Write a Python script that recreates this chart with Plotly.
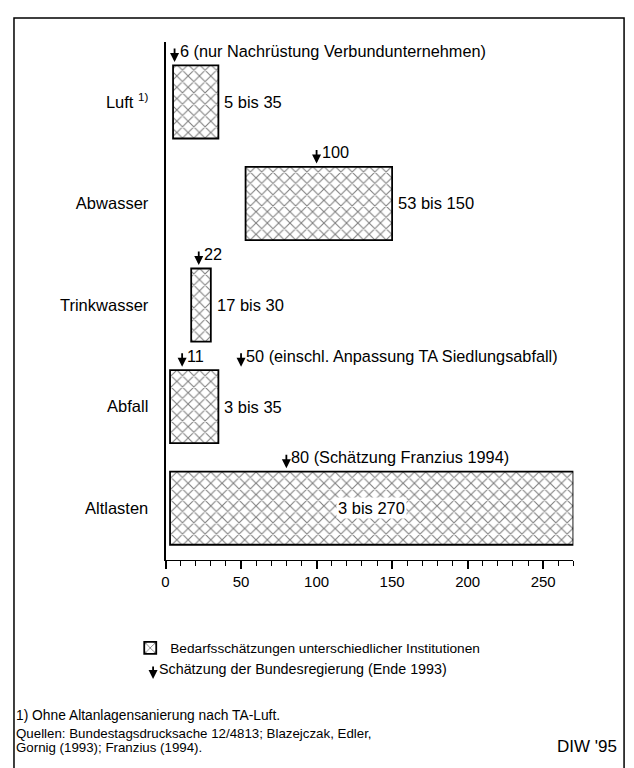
import plotly.graph_objects as go

# ---- data ----
categories = ["Luft", "Abwasser", "Trinkwasser", "Abfall", "Altlasten"]
category_labels = ["Luft <sup>1)</sup>", "Abwasser", "Trinkwasser", "Abfall", "Altlasten"]
low = [5, 53, 17, 3, 3]
high = [35, 150, 30, 35, 270]

gov_category = ["Luft", "Abwasser", "Trinkwasser", "Abfall", "Abfall", "Altlasten"]
gov_value = [6, 100, 22, 11, 50, 80]
gov_note = ["(nur Nachrüstung Verbundunternehmen)", "", "", "", "(einschl. Anpassung TA Siedlungsabfall)",
            "(Schätzung Franzius 1994)"]

x_tick_step = 50
x_minor_step = 10
x_max = 270
x_minor_vals = list(range(0, x_max + 1, x_minor_step))
x_minor_text = [str(v) if v % x_tick_step == 0 else "" for v in x_minor_vals]

# page has an 8px body margin -> figure is placed at (8, 8)
OFF = 8
W, H = 634 - OFF, 768 - OFF
FONT = "Liberation Sans, Arial, Helvetica, sans-serif"


def fx(x):
    return (x - OFF) / W


def fy(y):
    return 1 - (y - OFF) / H


ypos = list(range(len(categories)))
widths = [h - l for l, h in zip(low, high)]

bar_marker = dict(color="white", line=dict(color="black", width=1.8),
                  pattern=dict(shape="x", fgcolor="black", bgcolor="white", size=8, solidity=0.25))

fig = go.Figure()
fig.add_trace(go.Bar(
    y=ypos, x=widths, base=low, orientation="h", width=0.72,
    name="Bedarfsschätzungen unterschiedlicher Institutionen",
    marker=bar_marker, hoverinfo="skip", showlegend=True,
))
# transparent copy on the overlay axis that carries the long (major) ticks
fig.add_trace(go.Bar(
    y=ypos, x=widths, base=low, orientation="h", width=0.72, xaxis="x2",
    marker=dict(color="rgba(0,0,0,0)"), opacity=0, hoverinfo="skip", showlegend=False,
))

annotations = []
# range labels
for i, (l, h) in enumerate(zip(low, high)):
    txt = f"{l} bis {h}"
    if i == len(categories) - 1:
        annotations.append(dict(x=(l + h) / 2, y=i, text=txt, showarrow=False, xanchor="center",
                                yanchor="middle", bgcolor="white", font=dict(size=16.5),
                                borderpad=1))
    else:
        annotations.append(dict(x=h, y=i, text=txt, showarrow=False, xanchor="left", xshift=4,
                                yanchor="middle", font=dict(size=16.5)))

# government estimates (arrows)
for cat, v, note in zip(gov_category, gov_value, gov_note):
    i = categories.index(cat)
    annotations.append(dict(x=v, y=i, yshift=40, text="", showarrow=True, ax=0, ay=-15,
                            arrowhead=2, arrowsize=1.0, arrowwidth=1.8, arrowcolor="black"))
    label = f"{v} {note}".strip()
    annotations.append(dict(x=v, y=i, yshift=51, xshift=3, text=label, showarrow=False,
                            xanchor="left", yanchor="middle", font=dict(size=16.3)))

# legend entry for arrow
annotations.append(dict(xref="paper", yref="paper", x=fx(150), y=fy(679), text="", showarrow=True,
                        ax=0, ay=-14, arrowhead=2, arrowsize=1.0, arrowwidth=1.8, arrowcolor="black"))
annotations.append(dict(xref="paper", yref="paper", x=fx(154), y=fy(669),
                        text="Schätzung der Bundesregierung (Ende 1993)", showarrow=False,
                        xanchor="left", yanchor="middle", font=dict(size=14.3)))

# footnotes
annotations.append(dict(xref="paper", yref="paper", x=fx(10), y=fy(715),
                        text="1) Ohne Altanlagensanierung nach TA-Luft.", showarrow=False,
                        xanchor="left", yanchor="middle", font=dict(size=13.8)))
annotations.append(dict(xref="paper", yref="paper", x=fx(10), y=fy(733),
                        text="Quellen: Bundestagsdrucksache 12/4813; Blazejczak, Edler,", showarrow=False,
                        xanchor="left", yanchor="middle", font=dict(size=13.3)))
annotations.append(dict(xref="paper", yref="paper", x=fx(10), y=fy(747),
                        text="Gornig (1993); Franzius (1994).", showarrow=False,
                        xanchor="left", yanchor="middle", font=dict(size=13.3)))
annotations.append(dict(xref="paper", yref="paper", x=fx(619), y=fy(746),
                        text="DIW '95", showarrow=False,
                        xanchor="right", yanchor="middle", font=dict(size=17)))

shapes = [dict(type="rect", xref="paper", yref="paper", x0=fx(10), x1=fx(624), y0=-0.02, y1=fy(18),
               line=dict(color="black", width=1.5), fillcolor="rgba(0,0,0,0)", layer="below")]

x_domain = [fx(162.5), fx(573)]

fig.update_layout(
    width=W, height=H,
    margin=dict(l=0, r=0, t=0, b=0),
    paper_bgcolor="white", plot_bgcolor="white",
    font=dict(family=FONT, size=14, color="black"),
    annotations=annotations,
    shapes=shapes,
    showlegend=True,
    legend=dict(x=fx(127), y=fy(648), xanchor="left", yanchor="middle",
                font=dict(size=13.7), bgcolor="rgba(0,0,0,0)"),
    xaxis=dict(domain=x_domain, range=[0, x_max], showline=True, linecolor="black", linewidth=1.3,
               ticks="outside", ticklen=5, tickwidth=1.2, tickcolor="black",
               tickmode="array", tickvals=x_minor_vals, ticktext=x_minor_text,
               showgrid=False, zeroline=False, ticklabelstandoff=3, tickfont=dict(size=15)),
    # overlay axis carrying the longer ticks every 50 units
    xaxis2=dict(domain=x_domain, range=[0, x_max], overlaying="x", anchor="y", side="bottom",
                showline=False, ticks="outside", ticklen=8, tickwidth=1.5, tickcolor="black",
                tickmode="linear", tick0=0, dtick=x_tick_step, showticklabels=False,
                showgrid=False, zeroline=False),
    yaxis=dict(domain=[fy(560), fy(42)], range=[4.51, -0.59], showline=True, linecolor="black",
               linewidth=1.8, tickvals=ypos, ticktext=category_labels, ticks="", showgrid=False,
               zeroline=False, ticklabelstandoff=12, tickfont=dict(size=16.5)),
)

fig.write_html("out.html")
